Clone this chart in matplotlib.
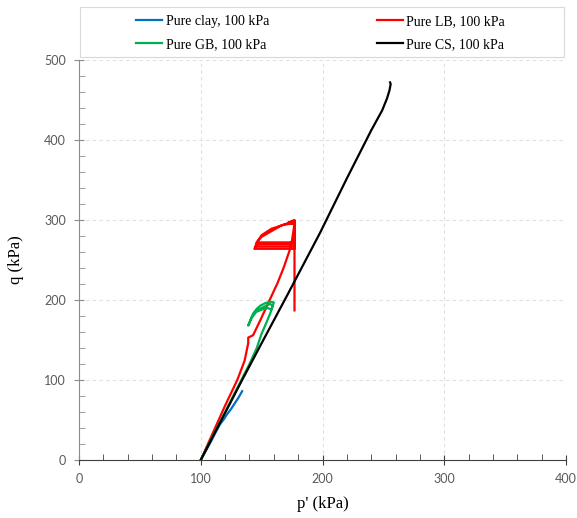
import matplotlib
matplotlib.use("Agg")
import matplotlib.pyplot as plt
from matplotlib.ticker import MultipleLocator
from matplotlib.patches import Rectangle

# stress paths (p' and q in kPa)
clay_p = [100, 104, 108, 112, 116, 119, 122, 125, 128, 131, 134]
clay_q = [0, 11, 22, 34, 45, 51, 58, 64, 71, 78, 86]

lb_p = [100, 110, 120, 130, 136, 139, 139, 143, 149, 156, 163, 168, 173, 175, 176, 177,
        168, 158, 150, 146, 145, 177, 177, 146, 150, 158, 166, 177, 177, 144, 146, 177,
        177, 172, 177, 177, 177]
lb_q = [0, 34, 68, 100, 124, 146, 153, 156, 175, 198, 221, 240, 262, 275, 285, 296,
        294, 289, 281, 272, 267, 267, 272, 272, 279, 286, 293, 299, 264, 264, 270, 270,
        300, 297, 295, 250, 187]

gb_p = [100, 110, 120, 130, 140, 146, 150, 154, 157, 159, 160, 157, 153, 149, 146, 143,
        141, 139, 142, 146, 150, 154, 157, 159, 158, 155, 150, 147]
gb_q = [0, 30, 60, 90, 120, 140, 158, 172, 183, 192, 197, 198, 196, 193, 189, 183,
        176, 168, 178, 186, 190, 193, 195, 193, 188, 190, 188, 186]

cs_p = [100, 117, 134, 150, 170, 198, 220, 240, 249, 253, 255, 256, 255.5]
cs_q = [0, 50, 100, 146, 203, 284, 352, 412, 437, 452, 462, 470, 472]

labels = ["Pure clay, 100 kPa", "Pure GB, 100 kPa", "Pure LB, 100 kPa", "Pure CS, 100 kPa"]
colors = ["#0070C0", "#00B050", "#FF0000", "#000000"]

fig = plt.figure(figsize=(5.77, 5.18), dpi=100)
ax = fig.add_axes([79/577, 58/518, 487/577, 400/518])

l1, = ax.plot(clay_p, clay_q, color=colors[0], lw=1.6)
l3, = ax.plot(lb_p, lb_q, color=colors[2], lw=1.6)
l2, = ax.plot(gb_p, gb_q, color=colors[1], lw=1.6)
l4, = ax.plot(cs_p, cs_q, color=colors[3], lw=1.6)

ax.set_xlim(0, 400)
ax.set_ylim(0, 500)
ax.xaxis.set_major_locator(MultipleLocator(100))
ax.xaxis.set_minor_locator(MultipleLocator(20))
ax.yaxis.set_major_locator(MultipleLocator(100))
ax.yaxis.set_minor_locator(MultipleLocator(20))
ax.grid(True, which="major", color="#e0e0e0", ls=(0, (3, 3)), lw=0.8)
ax.set_axisbelow(True)

for s in ["top", "right"]:
    ax.spines[s].set_visible(False)
ax.spines["left"].set_color("#8c8c8c")
ax.spines["bottom"].set_color("#404040")

ax.tick_params(axis="x", which="major", direction="inout", length=7, color="#404040",
               labelcolor="#595959", labelsize=9, pad=6)
ax.tick_params(axis="x", which="minor", direction="in", length=4, color="#404040")
ax.tick_params(axis="y", which="major", direction="inout", length=7, color="#8c8c8c",
               labelcolor="#595959", labelsize=9, pad=6)
ax.tick_params(axis="y", which="minor", direction="in", length=4, color="#8c8c8c")
for t in ax.get_xticklabels() + ax.get_yticklabels():
    t.set_fontfamily("Lato")

ax.set_xlabel("p' (kPa)", family="Liberation Serif", fontsize=12, labelpad=8)
ax.set_ylabel("q (kPa)", family="Liberation Serif", fontsize=12, labelpad=14)

fig.legend([l1, l2, l3, l4], labels, ncol=2, loc="center",
           bbox_to_anchor=(0.556, 0.936), frameon=False,
           prop={"family": "Liberation Serif", "size": 10},
           handlelength=1.85, handletextpad=0.25, columnspacing=7.8, labelspacing=0.7)
fig.patches.append(Rectangle((80/577, 1 - 57/518), 484/577, 50/518, transform=fig.transFigure,
                             fill=False, edgecolor="#d9d9d9", lw=0.8))

fig.savefig("out.png", dpi=100)
